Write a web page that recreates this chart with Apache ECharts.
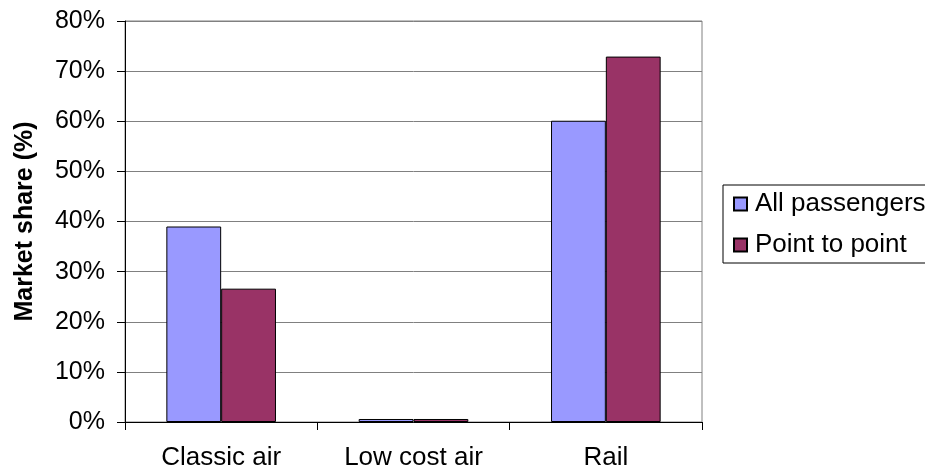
<!DOCTYPE html>
<html>
<head>
<meta charset="utf-8">
<script src="https://cdn.jsdelivr.net/npm/echarts@6/dist/echarts.min.js"></script>
<style>
html,body{margin:0;padding:0;background:#fff;overflow:hidden;}
#main{width:925px;height:471px;}
</style>
</head>
<body>
<div id="main"></div>
<script>
const categories = ['Classic air', 'Low cost air', 'Rail'];
const allPassengers = [39.0, 0.6, 60.1];
const pointToPoint = [26.6, 0.6, 72.9];
const seriesNames = ['All passengers', 'Point to point'];
const yTitle = 'Market share (%)';

const FONT = '"Liberation Sans", Arial, sans-serif';
const chart = echarts.init(document.getElementById('main'), null, {renderer: 'canvas'});
chart.setOption({
  animation: false,
  backgroundColor: '#fff',
  textStyle: {fontFamily: FONT},
  grid: {left: 125, right: 223, top: 21, bottom: 49, show: true, borderColor: '#808080', borderWidth: 1, backgroundColor: 'transparent'},
  legend: {
    left: 723, top: 185, orient: 'vertical',
    padding: [6, 10, 5, 10],
    itemWidth: 13, itemHeight: 13, itemGap: 15,
    borderColor: '#000', borderWidth: 1,
    icon: 'rect',
    textStyle: {fontSize: 26, color: '#000', fontFamily: FONT, padding: [0, 0, 0, 3]},
    data: seriesNames
  },
  xAxis: {
    type: 'category', data: categories,
    axisLine: {lineStyle: {color: '#000', width: 1}},
    axisTick: {show: true, length: 8, lineStyle: {color: '#000'}},
    axisLabel: {fontSize: 26, color: '#000', margin: 23, fontFamily: FONT},
    splitLine: {show: false}
  },
  yAxis: {
    type: 'value', min: 0, max: 80, interval: 10,
    name: yTitle, nameLocation: 'middle', nameRotate: 90, nameGap: 87,
    nameTextStyle: {fontSize: 25, fontWeight: 'bold', color: '#000', fontFamily: FONT},
    axisLine: {show: true, lineStyle: {color: '#000', width: 1}},
    axisTick: {show: true, length: 8, lineStyle: {color: '#000'}},
    axisLabel: {fontSize: 25, color: '#000', margin: 20, formatter: '{value}%', fontFamily: FONT},
    splitLine: {show: true, lineStyle: {color: '#808080', width: 1}}
  },
  series: [
    {name: seriesNames[0], type: 'bar', data: allPassengers, barGap: '0%', barCategoryGap: '43%',
     itemStyle: {color: '#9999FF', borderColor: '#000', borderWidth: 1}},
    {name: seriesNames[1], type: 'bar', data: pointToPoint, barGap: '0%', barCategoryGap: '43%',
     itemStyle: {color: '#993366', borderColor: '#000', borderWidth: 1}}
  ]
});
</script>
</body>
</html>
